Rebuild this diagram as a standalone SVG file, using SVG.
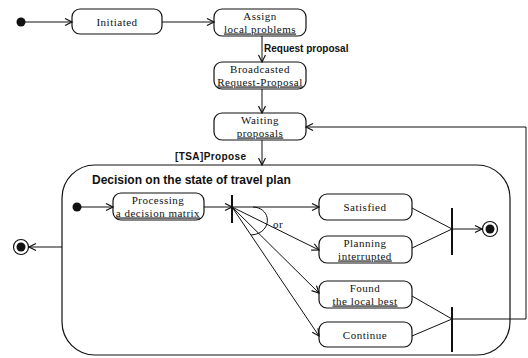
<svg xmlns="http://www.w3.org/2000/svg" width="528" height="358" viewBox="0 0 528 358">
  <style>
    .box { fill: #fff; stroke: #111; stroke-width: 1.2; }
    .lbl { font-family: "Liberation Serif", "Times New Roman", serif; font-size: 11px; letter-spacing: 0.5px; fill: #111; text-anchor: middle; }
    .u { text-decoration: underline; }
    .ev { font-family: "Liberation Sans", Arial, sans-serif; font-size: 10px; font-weight: bold; fill: #111; }
    .title { font-family: "Liberation Sans", Arial, sans-serif; font-size: 12px; font-weight: bold; fill: #111; }
    .edge { fill: none; stroke: #111; stroke-width: 1; }
    .bar { stroke: #111; stroke-width: 2; }
  </style>
  <defs>
    <marker id="arr" markerWidth="10" markerHeight="10" refX="8" refY="4" orient="auto" markerUnits="userSpaceOnUse">
      <path d="M1,0.5 L8,4 L1,7.5" fill="none" stroke="#111" stroke-width="1.2"/>
    </marker>
  </defs>

  <!-- composite state -->
  <g id="decision">
    <rect class="box" x="62" y="165" width="448" height="190" rx="33" ry="33"/>
    <text class="title" x="92" y="184">Decision on the state of travel plan</text>
  </g>

  <g id="start">
    <circle cx="21" cy="22" r="4.5" fill="#111"/>
  </g>
  <g id="initiated">
    <rect class="box" x="72" y="9" width="90" height="25" rx="8"/>
    <text class="lbl" x="117" y="26">Initiated</text>
  </g>
  <g id="assign">
    <rect class="box" x="214" y="9" width="92" height="27" rx="8"/>
    <text class="lbl" x="260" y="20">Assign</text>
    <text class="lbl u" x="260" y="32.5">local problems</text>
  </g>
  <g id="broadcasted">
    <rect class="box" x="214" y="62" width="92" height="27" rx="8"/>
    <text class="lbl" x="260" y="73">Broadcasted</text>
    <text class="lbl u" x="260" y="85.5">Request-Proposal</text>
  </g>
  <g id="waiting">
    <rect class="box" x="214" y="113" width="92" height="27" rx="8"/>
    <text class="lbl" x="260" y="124">Waiting</text>
    <text class="lbl u" x="260" y="136.5">proposals</text>
  </g>
  <g id="final-outer">
    <circle cx="21" cy="247" r="7.5" fill="#fff" stroke="#111" stroke-width="1.2"/>
    <circle cx="21" cy="247" r="4.5" fill="#111"/>
  </g>

  <g id="inner-start">
    <circle cx="77" cy="207" r="4.5" fill="#111"/>
  </g>
  <g id="processing">
    <rect class="box" x="113" y="193" width="91" height="27" rx="8"/>
    <text class="lbl" x="158" y="204">Processing</text>
    <text class="lbl u" x="158" y="216.5">a decision matrix</text>
  </g>
  <g id="fork">
    <line class="bar" x1="232" y1="195" x2="232" y2="223"/>
  </g>
  <g id="satisfied">
    <rect class="box" x="319" y="194" width="93" height="26" rx="8"/>
    <text class="lbl" x="365" y="211">Satisfied</text>
  </g>
  <g id="interrupted">
    <rect class="box" x="319" y="236" width="93" height="27" rx="8"/>
    <text class="lbl" x="365" y="247">Planning</text>
    <text class="lbl u" x="365" y="259.5">interrupted</text>
  </g>
  <g id="found">
    <rect class="box" x="319" y="281" width="93" height="27" rx="8"/>
    <text class="lbl" x="365" y="292">Found</text>
    <text class="lbl u" x="365" y="304.5">the local best</text>
  </g>
  <g id="continue">
    <rect class="box" x="319" y="322" width="93" height="25" rx="8"/>
    <text class="lbl" x="365" y="339">Continue</text>
  </g>
  <g id="join-done">
    <line class="bar" x1="452" y1="208" x2="452" y2="255"/>
  </g>
  <g id="inner-final">
    <circle cx="490" cy="229" r="7.5" fill="#fff" stroke="#111" stroke-width="1.2"/>
    <circle cx="490" cy="229" r="4.5" fill="#111"/>
  </g>
  <g id="join-loop">
    <line class="bar" x1="452" y1="307" x2="452" y2="352"/>
  </g>

  <g id="connectors">
    <line class="edge" x1="25" y1="22" x2="72" y2="22" marker-end="url(#arr)"/>
    <line class="edge" x1="162" y1="22" x2="214" y2="22" marker-end="url(#arr)"/>
    <line class="edge" x1="262" y1="36" x2="262" y2="62" marker-end="url(#arr)"/>
    <text class="ev" x="264" y="52">Request proposal</text>
    <line class="edge" x1="262" y1="89" x2="262" y2="113" marker-end="url(#arr)"/>
    <line class="edge" x1="262" y1="140" x2="262" y2="165" marker-end="url(#arr)"/>
    <text class="ev" x="175" y="160" style="letter-spacing:0.4px">[TSA]Propose</text>
    <line class="edge" x1="62" y1="247" x2="29" y2="247" marker-end="url(#arr)"/>

    <line class="edge" x1="81" y1="207" x2="113" y2="207" marker-end="url(#arr)"/>
    <line class="edge" x1="204" y1="207" x2="232" y2="207" marker-end="url(#arr)"/>
    <line class="edge" x1="232" y1="207" x2="319" y2="207" marker-end="url(#arr)"/>
    <line class="edge" x1="232" y1="207" x2="319" y2="250" marker-end="url(#arr)"/>
    <line class="edge" x1="232" y1="207" x2="319" y2="293" marker-end="url(#arr)"/>
    <line class="edge" x1="232" y1="207" x2="319" y2="336" marker-end="url(#arr)"/>
    <path class="edge" d="M253,207 C273,208 272,234 251,235"/>
    <text class="lbl" x="273" y="228" style="text-anchor:start">or</text>

    <line class="edge" x1="412" y1="208" x2="452" y2="229"/>
    <line class="edge" x1="412" y1="248" x2="452" y2="229"/>
    <line class="edge" x1="452" y1="229" x2="482" y2="229" marker-end="url(#arr)"/>
    <line class="edge" x1="412" y1="296" x2="452" y2="319"/>
    <line class="edge" x1="412" y1="336" x2="452" y2="319"/>
    <polyline class="edge" points="452,319 526,319 526,127 306,127" marker-end="url(#arr)"/>
  </g>
</svg>
